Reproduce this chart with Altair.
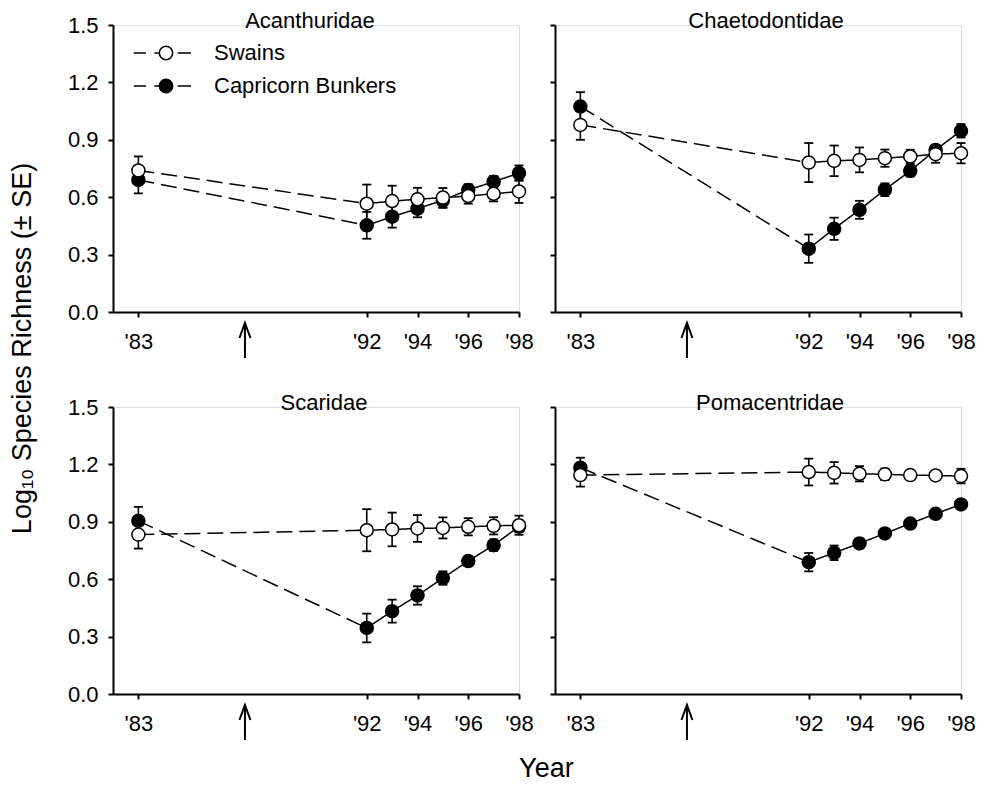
import altair as alt
import pandas as pd

FONT = "Liberation Sans"

# ---------------- data ----------------
years = [1983, 1992, 1993, 1994, 1995, 1996, 1997, 1998]
series_names = ["Swains", "Capricorn Bunkers"]
disturbance_year = [1987.2]

acan_swains = [0.740, 0.566, 0.580, 0.589, 0.598, 0.606, 0.618, 0.630]
acan_swains_se = [0.073, 0.100, 0.080, 0.060, 0.050, 0.040, 0.040, 0.060]
acan_cap = [0.690, 0.453, 0.498, 0.540, 0.584, 0.638, 0.681, 0.726]
acan_cap_se = [0.070, 0.070, 0.057, 0.045, 0.040, 0.030, 0.030, 0.040]

chae_swains = [0.978, 0.781, 0.790, 0.795, 0.804, 0.813, 0.825, 0.830]
chae_swains_se = [0.078, 0.102, 0.080, 0.065, 0.045, 0.035, 0.045, 0.053]
chae_cap = [1.074, 0.331, 0.435, 0.534, 0.639, 0.738, 0.847, 0.947]
chae_cap_se = [0.075, 0.074, 0.058, 0.047, 0.033, 0.030, 0.020, 0.035]

scar_swains = [0.833, 0.856, 0.860, 0.865, 0.868, 0.874, 0.879, 0.882]
scar_swains_se = [0.073, 0.110, 0.088, 0.070, 0.055, 0.045, 0.045, 0.050]
scar_cap = [0.905, 0.345, 0.433, 0.515, 0.606, 0.695, 0.778, 0.875]
scar_cap_se = [0.073, 0.075, 0.060, 0.048, 0.035, 0.025, 0.030, 0.030]

poma_swains = [1.144, 1.160, 1.156, 1.151, 1.148, 1.144, 1.142, 1.139]
poma_swains_se = [0.060, 0.070, 0.056, 0.040, 0.030, 0.020, 0.020, 0.038]
poma_cap = [1.183, 0.689, 0.738, 0.787, 0.839, 0.891, 0.942, 0.991]
poma_cap_se = [0.052, 0.048, 0.038, 0.025, 0.020, 0.015, 0.015, 0.020]

y_ticks = [0.0, 0.3, 0.6, 0.9, 1.2, 1.5]
x_ticks = [1983, 1992, 1994, 1996, 1998]

# ---------------- layout ----------------
W, H = 406, 287

xscale = alt.Scale(domain=[1982, 1998], nice=False, zero=False)
yscale = alt.Scale(domain=[0, 1.5], nice=False, zero=True)

LEGEND_PATH = ("M-4.6,0H-2.86M-1.66,0H-0.94M1.67,0H3.57"
               "M-0.95,0A0.95,0.95,0,1,0,0.95,0A0.95,0.95,0,1,0,-0.95,0Z")


def panel(family, sw, sw_se, cb, cb_se, y_labels, legend, title_dx):
    rows = []
    seg_rows = []
    for s, vals, ses in [("Capricorn Bunkers", cb, cb_se), ("Swains", sw, sw_se)]:
        for yr, v, e in zip(years, vals, ses):
            rows.append(dict(year=yr, series=s, value=v, lo=v - e, hi=v + e))
            if yr <= 1992:
                seg_rows.append(dict(year=yr, series=s, value=v, seg="dashed"))
            if yr >= 1992:
                seg_rows.append(dict(year=yr, series=s, value=v, seg="solid"))
    df = pd.DataFrame(rows)
    seg_df = pd.DataFrame(seg_rows)

    xaxis = alt.Axis(values=x_ticks, title=None, grid=False,
                     labelExpr="\"'\" + substring(toString(datum.value), 2)",
                     domainColor="black", domainWidth=2, tickColor="black",
                     tickWidth=2, tickSize=5, labelFont=FONT, labelFontSize=22,
                     labelColor="black", labelPadding=14, labelFlush=False)
    yaxis = alt.Axis(values=y_ticks, title=None, grid=False, format=".1f",
                     labels=y_labels, domainColor="black", domainWidth=2,
                     tickColor="black", tickWidth=2, tickSize=5, labelFont=FONT,
                     labelFontSize=22, labelColor="black", labelPadding=10)

    X = alt.X("year:Q", scale=xscale, axis=xaxis)

    base = alt.Chart(df)
    err = base.mark_rule(color="black", strokeWidth=1.6).encode(
        x=X, y=alt.Y("lo:Q", scale=yscale, axis=yaxis), y2="hi:Q")
    caps = base.transform_fold(["lo", "hi"], as_=["bound", "bval"]).mark_tick(
        orient="horizontal", size=9, thickness=1.8, color="black", opacity=1
    ).encode(x=X, y=alt.Y("bval:Q", scale=yscale, axis=yaxis))

    lines = alt.Chart(seg_df).mark_line(color="black", strokeWidth=1.5).encode(
        x=X, y=alt.Y("value:Q", scale=yscale, axis=yaxis),
        detail="series:N",
        strokeDash=alt.StrokeDash("seg:N", scale=alt.Scale(
            domain=["dashed", "solid"], range=[[16, 7], [1, 0]]), legend=None),
    )

    if legend:
        leg = alt.Legend(title=None, orient="none", legendX=42, legendY=17,
                         padding=0, symbolType=LEGEND_PATH, symbolSize=196,
                         symbolStrokeColor="black", symbolStrokeWidth=1.5,
                         symbolOpacity=1, labelFont=FONT, labelFontSize=22,
                         labelColor="black", labelOffset=37, rowPadding=11,
                         labelLimit=400)
    else:
        leg = None
    pts = base.mark_circle(size=169, stroke="black", strokeWidth=1.5, opacity=1).encode(
        x=X, y=alt.Y("value:Q", scale=yscale, axis=yaxis),
        fill=alt.Fill("series:N", scale=alt.Scale(domain=series_names,
                                                  range=["white", "black"]),
                      legend=leg),
    )

    title = alt.Chart(pd.DataFrame({"name": [family]})).mark_text(
        font=FONT, fontSize=22, align="center", baseline="alphabetic", color="black"
    ).encode(text="name:N", x=alt.value(W / 2 + title_dx), y=alt.value(3))

    arrow_df = pd.DataFrame({"year": disturbance_year})
    shaft = alt.Chart(arrow_df).mark_rule(color="black", strokeWidth=2).encode(
        x=X, y=alt.value(H + 11), y2=alt.value(H + 46))
    head = alt.Chart(arrow_df).mark_point(
        shape="M-1.1,3L0,0L1.1,3", size=100, filled=False, color="black",
        strokeWidth=2, opacity=1).encode(x=X, y=alt.value(H + 11))

    return alt.layer(err, caps, lines, pts, title, shaft, head).properties(
        width=W, height=H)


p1 = panel("Acanthuridae", acan_swains, acan_swains_se, acan_cap, acan_cap_se, True, True, -6)
p2 = panel("Chaetodontidae", chae_swains, chae_swains_se, chae_cap, chae_cap_se, False, False, 8)
p3 = panel("Scaridae", scar_swains, scar_swains_se, scar_cap, scar_cap_se, True, False, 8)
p4 = panel("Pomacentridae", poma_swains, poma_swains_se, poma_cap, poma_cap_se, False, False, 12)

grid = alt.concat(
    p1, p2, p3, p4, columns=2, bounds="flush",
    spacing=alt.RowColnumber(row=95, column=36),
    title=alt.TitleParams("Year", orient="bottom", anchor="middle", font=FONT,
                          fontSize=27, fontWeight="normal", color="black",
                          offset=14, dx=25),
).resolve_scale(fill="independent", strokeDash="independent").resolve_legend(
    fill="independent")

chart = alt.vconcat(
    grid,
    title=alt.TitleParams("Log₁₀ Species Richness (± SE)", orient="left",
                          anchor="middle", font=FONT, fontSize=27,
                          fontWeight="normal", color="black", offset=30, dx=47),
).properties(padding={"left": 0, "top": 1, "right": 0, "bottom": 0}).configure_view(
    strokeWidth=0, strokeOpacity=0).configure(background="white")

chart.save("out.html", embed_options={"renderer": "svg", "actions": False})
